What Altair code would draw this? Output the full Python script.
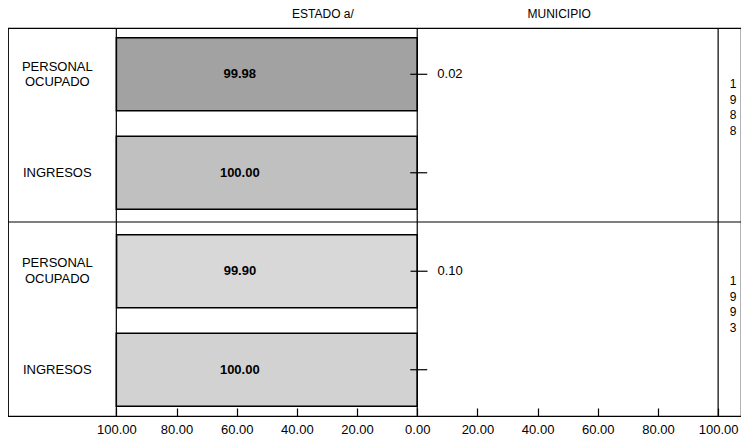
import altair as alt
import pandas as pd

# ---- data ----
years = ["1988", "1988", "1993", "1993"]
variables = ["PERSONAL OCUPADO", "INGRESOS", "PERSONAL OCUPADO", "INGRESOS"]
estado = [99.98, 100.00, 99.90, 100.00]
municipio = [0.02, 0.00, 0.10, 0.00]
tick_labels = [100, 80, 60, 40, 20, 0, 20, 40, 60, 80, 100]
panel_titles = ["ESTADO a/", "MUNICIPIO"]

# ---- styles ----
FONT = "Liberation Sans, Arial, sans-serif"
fills = ["#a2a2a2", "#c0c0c0", "#d8d8d8", "#d2d2d2"]

df = pd.DataFrame({"year": years, "var": variables,
                   "estado": estado, "municipio": municipio})
df["key"] = df["year"] + "|" + df["var"]
df["estado_signed"] = -df["estado"]
df["estado_mid"] = -df["estado"] / 2
df["multiline"] = df["var"].str.contains(" ")
keys = list(df["key"])

# signed tick positions: left half (ESTADO) negative, right half positive
signed_ticks = [-v for v in tick_labels[:6]] + tick_labels[6:]

yscale = alt.Scale(domain=keys, paddingInner=0.26, paddingOuter=0.1)
Y = alt.Y("key:N", scale=yscale, axis=None)
xscale = alt.Scale(domain=[-136, 107.6], nice=False, zero=False)

base = alt.Chart(df)

bars_estado = base.mark_bar(stroke="black", strokeWidth=1.5).encode(
    x=alt.X("estado_signed:Q", scale=xscale, stack=None, title=None,
            axis=alt.Axis(orient="bottom", values=signed_ticks,
                          labelExpr="format(abs(datum.value), '.2f')",
                          offset=-8, tickSize=8, domain=False, grid=False,
                          labelPadding=7, labelFontSize=13, labelFont=FONT,
                          labelColor="black", tickColor="black", tickWidth=1.2)),
    y=Y,
    fill=alt.Fill("key:N", scale=alt.Scale(domain=keys, range=fills), legend=None),
)

bars_muni = base.mark_bar(fill="black", strokeWidth=0).encode(
    x=alt.X("municipio:Q", stack=None, axis=None),
    y=Y,
)

text_estado = base.mark_text(dx=-27, fontSize=13, fontWeight="bold",
                             font=FONT, color="black").encode(
    x=alt.X("estado_mid:Q", axis=None),
    y=Y,
    text=alt.Text("estado:Q", format=".2f"),
)

leaders = base.mark_rule(xOffset=-7, x2Offset=10, color="black",
                         strokeWidth=1.2).encode(
    x=alt.X("municipio:Q", axis=None),
    x2="municipio:Q",
    y=Y,
)

text_muni = base.transform_filter("datum.municipio > 0").mark_text(
    align="left", dx=20, fontSize=13, font=FONT, color="black").encode(
    x=alt.X("municipio:Q", axis=None),
    y=Y,
    text=alt.Text("municipio:Q", format=".2f"),
)

# vertical frame lines at -100%, 0 and +100%, carrying the panel titles axis
frame = pd.DataFrame({"v": [signed_ticks[0], 0, signed_ticks[-1]]})
vlines = alt.Chart(frame).mark_rule(color="black", strokeWidth=1.2).encode(
    x=alt.X("v:Q", title=None,
            axis=alt.Axis(orient="top", values=[-31.5, 47],
                          labelExpr="datum.value < 0 ? '%s' : '%s'" % tuple(panel_titles),
                          ticks=False, tickSize=0, domain=False, grid=False,
                          labelPadding=8, labelFontSize=12, labelFont=FONT,
                          labelColor="black")),
)

# horizontal separator between years
sep_df = df.drop_duplicates("year").iloc[1:][["key"]]
separator = alt.Chart(sep_df).mark_rule(yOffset=-12.8, color="black",
                                        strokeWidth=1.2).encode(
    y=alt.Y("key:N", scale=yscale, axis=None, bandPosition=0),
)

# category labels in the left column (two-line ones shifted to stay centred)
cat_one = base.transform_filter("!datum.multiline").mark_text(
    align="center", dx=-59, fontSize=13, font=FONT, color="black").encode(
    x=alt.XDatum(signed_ticks[0], type="quantitative", axis=None),
    y=Y,
    text="var:N",
)
cat_two = base.transform_filter("datum.multiline").mark_text(
    lineBreak=" ", align="center", dx=-59, dy=-7.75, lineHeight=15.5,
    fontSize=13, font=FONT, color="black").encode(
    x=alt.XDatum(signed_ticks[0], type="quantitative", axis=None),
    y=Y,
    text="var:N",
)

# year labels in the right column (stacked digits)
ydf = df.drop_duplicates("year").copy()
ydf["stacked"] = ydf["year"].apply(lambda s: "\n".join(s))
year_labels = alt.Chart(ydf).mark_text(lineBreak="\n", lineHeight=15.5,
                                       dx=15, dy=10, fontSize=12, font=FONT,
                                       color="black").encode(
    x=alt.XDatum(signed_ticks[-1], type="quantitative", axis=None),
    y=alt.Y("key:N", scale=yscale, axis=None),
    text="stacked:N",
)

chart = alt.layer(
    bars_estado, bars_muni, vlines, separator, text_estado, leaders,
    text_muni, cat_one, cat_two, year_labels,
).resolve_axis(x="independent").properties(
    width=733, height=388,
    autosize=alt.AutoSizeParams(type="none"),
    padding={"left": 0, "top": 20, "right": 0, "bottom": 21},
).configure_view(stroke="black", strokeWidth=1.2)

chart.save("out.html", embed_options={"renderer": "svg", "actions": False})
